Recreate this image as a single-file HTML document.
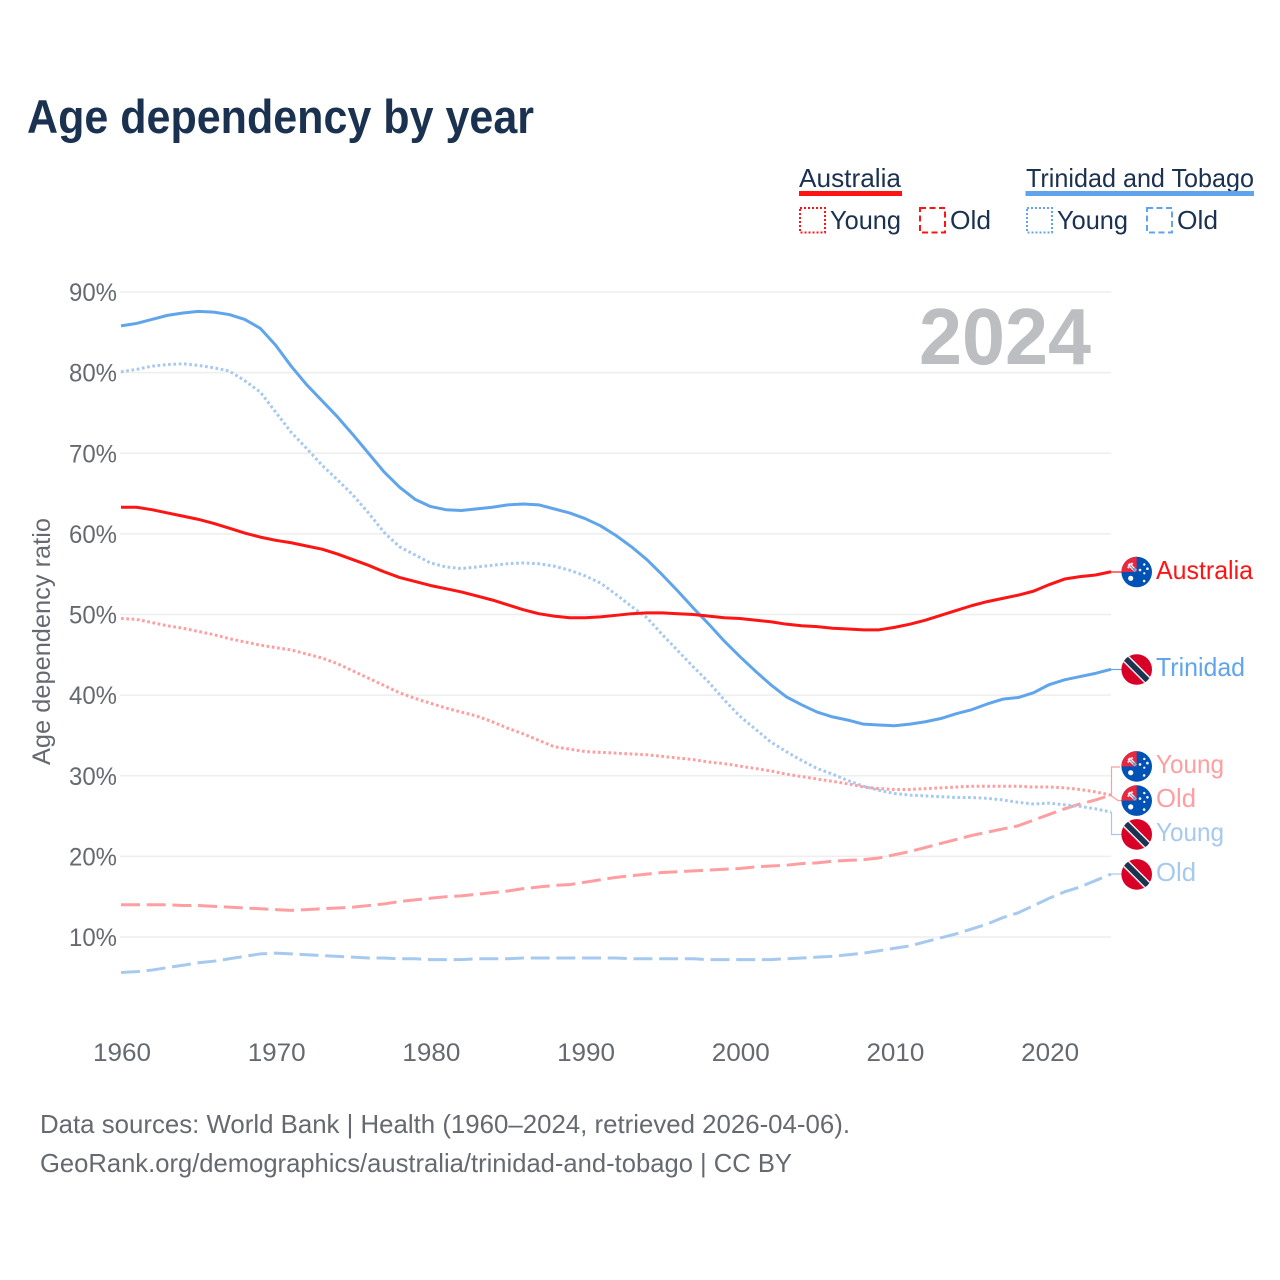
<!DOCTYPE html>
<html lang="en">
<head>
<meta charset="utf-8">
<title>Age dependency by year</title>
<style>
html,body{margin:0;padding:0;background:#fff;}
svg{display:block;font-family:"Liberation Sans",sans-serif;}
</style>
</head>
<body>
<svg id="chart" xmlns="http://www.w3.org/2000/svg" width="1280" height="1280" viewBox="0 0 1280 1280">
  <defs>
    <clipPath id="flag-clip"><circle cx="0" cy="0" r="15.3"/></clipPath>
    <g id="flag-au" clip-path="url(#flag-clip)">
      <rect x="-16" y="-16" width="32" height="32" fill="#0052b4"/>
      <rect x="-16" y="-16" width="16" height="16" fill="#e8283f"/>
      <path d="M-8,-8 L-1,-1" stroke="#ffffff" stroke-width="3.2"/>
      <path d="M-9,-4 L-4,-9" stroke="#f6dfe3" stroke-width="2"/>
      <path d="M-6.5,-6.5 L-1.5,-1.5" stroke="#7d8fc0" stroke-width="1"/>
      <rect x="-4" y="-4" width="4" height="4" fill="#3f6dbd" opacity="0.5"/>
      <circle cx="-6" cy="6.3" r="2.6" fill="#fff"/>
      <circle cx="3.3" cy="-2" r="1.3" fill="#fff"/>
      <circle cx="10.7" cy="-3.3" r="1.3" fill="#fff"/>
      <circle cx="7.6" cy="1.3" r="1.1" fill="#fff"/>
      <circle cx="7.6" cy="-7.5" r="1.2" fill="#fff"/>
      <circle cx="7.4" cy="9" r="1.3" fill="#fff"/>
    </g>
    <g id="flag-tt" clip-path="url(#flag-clip)">
      <rect x="-16" y="-16" width="32" height="32" fill="#d80027"/>
      <path d="M-16,-16 L16,16" stroke="#f0f0f0" stroke-width="8.5"/>
      <path d="M-16,-16 L16,16" stroke="#1b3350" stroke-width="5.5"/>
    </g>
  </defs>

  <rect x="0" y="0" width="1280" height="1280" fill="#ffffff"/>

  <text x="27" y="133" font-size="47" font-weight="700" fill="#1a3150" textLength="507" lengthAdjust="spacingAndGlyphs">Age dependency by year</text>

  <g font-size="26" fill="#1a3150">
    <text x="799" y="187" textLength="102" lengthAdjust="spacingAndGlyphs">Australia</text>
    <rect x="799" y="191" width="103" height="5" fill="#ff1414"/>
    <rect x="800" y="208" width="25" height="24.5" fill="none" stroke="#ff1414" stroke-width="2" stroke-dasharray="2 2"/>
    <text x="830" y="229" textLength="71" lengthAdjust="spacingAndGlyphs">Young</text>
    <rect x="920" y="208" width="25" height="24.5" fill="none" stroke="#ff1414" stroke-width="2" stroke-dasharray="6 3.5"/>
    <text x="950" y="229" textLength="41" lengthAdjust="spacingAndGlyphs">Old</text>

    <text x="1026" y="187" textLength="228" lengthAdjust="spacingAndGlyphs">Trinidad and Tobago</text>
    <rect x="1025.5" y="191" width="228.5" height="5" fill="#60a5eb"/>
    <rect x="1027" y="208" width="25" height="24.5" fill="none" stroke="#60a5eb" stroke-width="2" stroke-dasharray="2 2"/>
    <text x="1057" y="229" textLength="71" lengthAdjust="spacingAndGlyphs">Young</text>
    <rect x="1147" y="208" width="25" height="24.5" fill="none" stroke="#60a5eb" stroke-width="2" stroke-dasharray="6 3.5"/>
    <text x="1177" y="229" textLength="41" lengthAdjust="spacingAndGlyphs">Old</text>
  </g>

  <g id="grid"></g>
  <g id="yticks" font-size="25" fill="#666a70"></g>
  <g id="xticks" font-size="25" fill="#666a70"></g>

  <text transform="translate(50,641.5) rotate(-90)" text-anchor="middle" font-size="25" fill="#666a70" textLength="247" lengthAdjust="spacingAndGlyphs">Age dependency ratio</text>

  <text x="919" y="364" font-size="80" font-weight="700" fill="#bcbec1" textLength="172" lengthAdjust="spacingAndGlyphs">2024</text>

  <g id="series"></g>

  <g fill="none" stroke-width="1.2">
    <path d="M1111 572H1122" stroke="#ff1414"/>
    <path d="M1111 669.5H1122" stroke="#60a5eb"/>
    <path d="M1120 767H1111.5V796L1118 800.5H1122" stroke="#ff9ea0"/>
    <path d="M1111.5 812V834.5H1122" stroke="#a6c9ef"/>
    <path d="M1111 874H1122" stroke="#a6c9ef"/>
  </g>

  <use href="#flag-au" x="1136.7" y="572"/>
  <use href="#flag-tt" x="1136.7" y="669.5"/>
  <use href="#flag-au" x="1136.7" y="766.4"/>
  <use href="#flag-au" x="1136.7" y="800.6"/>
  <use href="#flag-tt" x="1136.7" y="834.4"/>
  <use href="#flag-tt" x="1136.7" y="874.4"/>

  <g font-size="26">
    <text x="1156" y="579" fill="#ff1414" textLength="97" lengthAdjust="spacingAndGlyphs">Australia</text>
    <text x="1156" y="676" fill="#60a5eb" textLength="89" lengthAdjust="spacingAndGlyphs">Trinidad</text>
    <text x="1156" y="773" fill="#ff9ea0" textLength="68" lengthAdjust="spacingAndGlyphs">Young</text>
    <text x="1156" y="807" fill="#ff9ea0" textLength="40" lengthAdjust="spacingAndGlyphs">Old</text>
    <text x="1156" y="841" fill="#a6c9ef" textLength="68" lengthAdjust="spacingAndGlyphs">Young</text>
    <text x="1156" y="881" fill="#a6c9ef" textLength="40" lengthAdjust="spacingAndGlyphs">Old</text>
  </g>

  <g font-size="26" fill="#666a70">
    <text x="40" y="1133" textLength="810" lengthAdjust="spacingAndGlyphs">Data sources: World Bank | Health (1960–2024, retrieved 2026-04-06).</text>
    <text x="40" y="1172" textLength="752" lengthAdjust="spacingAndGlyphs">GeoRank.org/demographics/australia/trinidad-and-tobago | CC BY</text>
  </g>
</svg>

<script>
const firstYear = 1960;
const xTickLabels = [1960, 1970, 1980, 1990, 2000, 2010, 2020];
const yTickLabels = [10, 20, 30, 40, 50, 60, 70, 80, 90];

const australiaTotal = [63.3,63.3,63.0,62.6,62.2,61.8,61.3,60.7,60.1,59.6,59.2,58.9,58.5,58.1,57.5,56.8,56.1,55.3,54.6,54.1,53.6,53.2,52.8,52.3,51.8,51.2,50.6,50.1,49.8,49.6,49.6,49.7,49.9,50.1,50.2,50.2,50.1,50.0,49.8,49.6,49.5,49.3,49.1,48.8,48.6,48.5,48.3,48.2,48.1,48.1,48.4,48.8,49.3,49.9,50.5,51.1,51.6,52.0,52.4,52.9,53.7,54.4,54.7,54.9,55.3];
const trinidadTotal = [85.8,86.1,86.6,87.1,87.4,87.6,87.5,87.2,86.6,85.5,83.4,80.8,78.5,76.5,74.5,72.3,70.0,67.7,65.8,64.3,63.4,63.0,62.9,63.1,63.3,63.6,63.7,63.6,63.1,62.6,61.9,61.0,59.8,58.4,56.8,54.9,52.9,50.8,48.8,46.7,44.8,43.0,41.3,39.8,38.8,37.9,37.3,36.9,36.4,36.3,36.2,36.4,36.7,37.1,37.7,38.2,38.9,39.5,39.7,40.3,41.3,41.9,42.3,42.7,43.2];
const australiaYoung = [49.5,49.4,49.0,48.6,48.3,47.9,47.5,47.0,46.6,46.2,45.9,45.6,45.1,44.6,43.9,43.0,42.1,41.2,40.3,39.6,39.0,38.4,37.9,37.4,36.7,35.9,35.2,34.4,33.6,33.3,33.0,32.9,32.8,32.7,32.6,32.4,32.2,32.0,31.7,31.5,31.2,30.9,30.6,30.2,29.9,29.6,29.3,29.0,28.6,28.4,28.3,28.3,28.4,28.5,28.6,28.7,28.7,28.7,28.7,28.6,28.6,28.5,28.3,28.0,27.6];
const australiaOld = [14.0,14.0,14.0,14.0,13.9,13.9,13.8,13.7,13.6,13.5,13.4,13.3,13.4,13.5,13.6,13.7,13.9,14.1,14.4,14.6,14.8,15.0,15.1,15.3,15.5,15.7,16.0,16.2,16.4,16.5,16.8,17.1,17.4,17.6,17.8,18.0,18.1,18.2,18.3,18.4,18.5,18.7,18.8,18.9,19.1,19.2,19.4,19.5,19.6,19.8,20.2,20.6,21.1,21.6,22.1,22.6,23.0,23.4,23.8,24.5,25.2,25.9,26.5,27.0,27.6];
const trinidadYoung = [80.1,80.4,80.8,81.0,81.1,80.9,80.6,80.2,79.0,77.6,75.1,72.6,70.6,68.5,66.7,64.8,62.6,60.2,58.4,57.4,56.4,55.9,55.7,55.9,56.1,56.3,56.4,56.3,56.0,55.5,54.8,53.9,52.5,51.0,49.6,47.5,45.5,43.5,41.6,39.4,37.4,35.8,34.2,33.0,31.9,30.9,30.2,29.4,28.7,28.2,27.8,27.6,27.5,27.4,27.3,27.3,27.2,27.0,26.7,26.5,26.6,26.4,26.2,25.9,25.5];
const trinidadOld = [5.6,5.7,5.9,6.2,6.5,6.8,7.0,7.3,7.6,7.9,8.0,7.9,7.8,7.7,7.6,7.5,7.4,7.4,7.3,7.3,7.2,7.2,7.2,7.3,7.3,7.3,7.4,7.4,7.4,7.4,7.4,7.4,7.4,7.3,7.3,7.3,7.3,7.3,7.2,7.2,7.2,7.2,7.2,7.3,7.4,7.5,7.6,7.8,8.0,8.3,8.6,8.9,9.4,9.9,10.4,11.0,11.6,12.4,13.0,13.9,14.8,15.6,16.2,17.0,17.8];

const NS = 'http://www.w3.org/2000/svg';
function xScale(year) { return 121 + (year - 1960) * (990 / 64); }
function yScale(value) { return 937 - (value - 10) * 8.0625; }

const gridGroup = document.getElementById('grid');
const yTickGroup = document.getElementById('yticks');
const xTickGroup = document.getElementById('xticks');
const seriesGroup = document.getElementById('series');

yTickLabels.forEach(function (tick) {
  const line = document.createElementNS(NS, 'line');
  
  
  line.setAttribute('x1', 120);
  line.setAttribute('x2', 1111);
  line.setAttribute('y1', yScale(tick));
  line.setAttribute('y2', yScale(tick));
  line.setAttribute('stroke', '#eeeeee');
  line.setAttribute('stroke-width', '1.6');
  gridGroup.appendChild(line);

  const label = document.createElementNS(NS, 'text');
  
  
  label.setAttribute('x', 69);
  label.setAttribute('y', yScale(tick) + 9);
  label.setAttribute('textLength', 48);
  label.setAttribute('lengthAdjust', 'spacingAndGlyphs');
  label.textContent = tick + '%';
  yTickGroup.appendChild(label);
});

xTickLabels.forEach(function (tick) {
  const label = document.createElementNS(NS, 'text');
  
  
  label.setAttribute('x', xScale(tick) + 1 - 29);
  label.setAttribute('y', 1061);
  label.setAttribute('textLength', 58);
  label.setAttribute('lengthAdjust', 'spacingAndGlyphs');
  label.textContent = tick;
  xTickGroup.appendChild(label);
});

function drawSeries(values, name, color, dash, width) {
  const points = values.map(function (v, i) {
    return xScale(firstYear + i).toFixed(2) + ',' + yScale(v).toFixed(2);
  });
  const line = document.createElementNS(NS, 'polyline');
  
  
  line.setAttribute('points', points.join(' '));
  line.setAttribute('fill', 'none');
  line.setAttribute('stroke', color);
  line.setAttribute('stroke-width', width);
  line.setAttribute('stroke-linejoin', 'round');
  if (dash) line.setAttribute('stroke-dasharray', dash);
  seriesGroup.appendChild(line);
}

drawSeries(trinidadOld, 'line-trinidad-old', '#a6c9ef', '19 6.7', 3);
drawSeries(australiaOld, 'line-australia-old', '#ff9ea0', '19 6.7', 3);
drawSeries(trinidadYoung, 'line-trinidad-young', '#a6c9ef', '2.7 2.6', 3);
drawSeries(australiaYoung, 'line-australia-young', '#ff9ea0', '2.7 2.6', 3);
drawSeries(trinidadTotal, 'line-trinidad-total', '#60a5eb', '', 3);
drawSeries(australiaTotal, 'line-australia-total', '#ff1414', '', 3);
</script>
</body>
</html>
